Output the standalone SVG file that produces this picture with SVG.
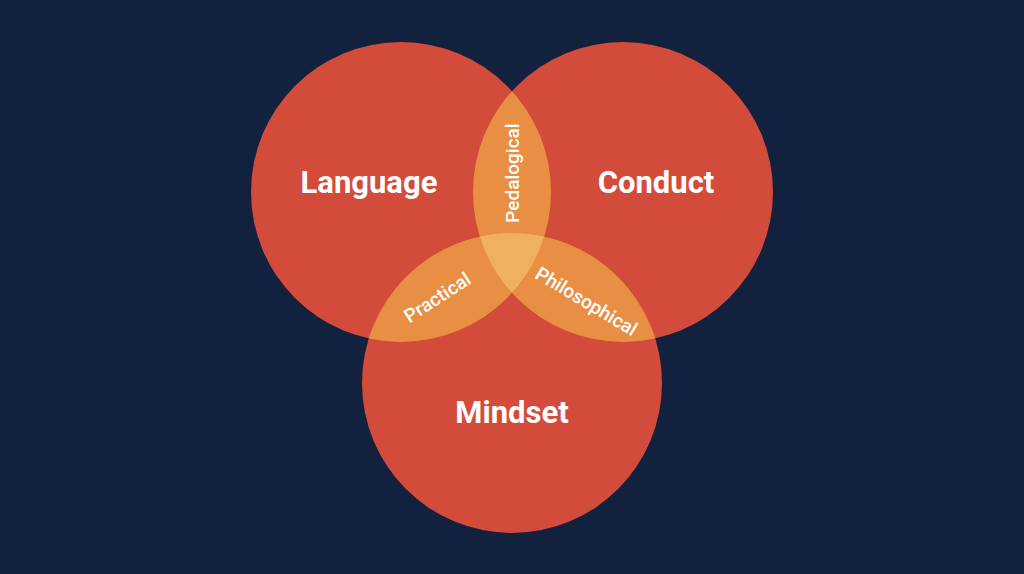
<svg xmlns="http://www.w3.org/2000/svg" width="1024" height="574" viewBox="0 0 1024 574">
<style>
.big{font-family:Roboto,"Liberation Sans",sans-serif;font-weight:700;font-size:31px;fill:#ffffff;text-anchor:middle}
.small{font-family:Roboto,"Liberation Sans",sans-serif;font-weight:500;font-size:19px;fill:#ffffff;text-anchor:middle}
.circ{fill:#D34C3B}
.lens{fill:#E88F44}
.tri{fill:#F0B15E}
</style>
<defs>
<clipPath id="cL"><circle cx="401" cy="192" r="150"/></clipPath>
<clipPath id="cR"><circle cx="623" cy="192" r="150"/></clipPath>
<clipPath id="cB"><circle cx="512" cy="383" r="150"/></clipPath>
</defs>
<rect width="1024" height="574" fill="#12213D"/>
<g id="language"><circle class="circ" cx="401" cy="192" r="150"/></g>
<g id="conduct"><circle class="circ" cx="623" cy="192" r="150"/></g>
<g id="mindset"><circle class="circ" cx="512" cy="383" r="150"/></g>
<g id="pedalogical"><g clip-path="url(#cL)"><circle class="lens" cx="623" cy="192" r="150"/></g></g>
<g id="practical"><g clip-path="url(#cL)"><circle class="lens" cx="512" cy="383" r="150"/></g></g>
<g id="philosophical"><g clip-path="url(#cR)"><circle class="lens" cx="512" cy="383" r="150"/></g></g>
<g id="center"><g clip-path="url(#cL)"><g clip-path="url(#cR)"><circle class="tri" cx="512" cy="383" r="150"/></g></g></g>
<g id="labels">
<text class="big" x="369" y="193">Language</text>
<text class="big" x="656" y="193">Conduct</text>
<text class="big" x="512" y="423">Mindset</text>
<text class="small" transform="translate(519,173) rotate(-90)">Pedalogical</text>
<text class="small" transform="translate(441,303) rotate(-33)">Practical</text>
<text class="small" transform="translate(583,307) rotate(31)">Philosophical</text>
</g>
</svg>
